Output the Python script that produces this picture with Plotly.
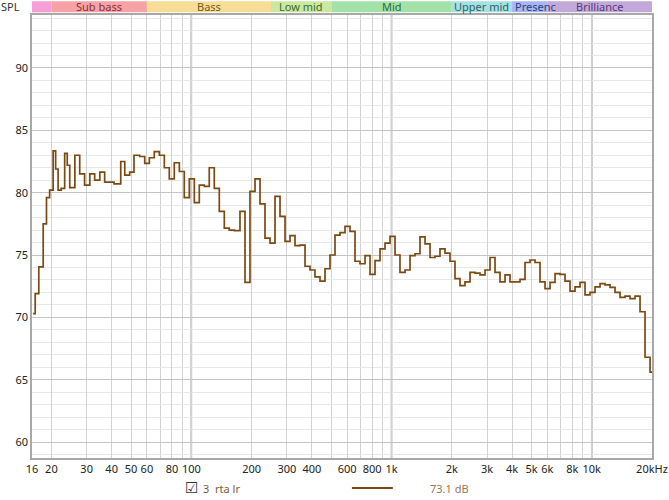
import math
import plotly.graph_objects as go

# ---- data (1/12-octave style RTA steps) ----
freq_hz = [
    16.2, 16.6, 17.3, 18.2, 18.9, 19.6, 20.4, 21.0, 21.6, 22.4,
    23.3, 24.0, 24.7, 26.2, 27.7, 29.3, 31.1, 32.9, 34.9, 36.9,
    41.1, 44.4, 46.5, 49.2, 51.7, 55.2, 58.5, 61.7, 65.3, 69.2,
    73.3, 77.6, 82.2, 87.1, 92.2, 97.7, 103.5, 109.6, 116.1, 122.9,
    130.2, 137.9, 146.1, 154.7, 163.9, 175.0, 185.4, 196.3, 208.0, 220.3,
    233.3, 247.2, 261.8, 277.3, 293.8, 311.2, 329.5, 349.0, 369.7, 391.6,
    414.6, 439.2, 465.3, 492.8, 521.9, 552.8, 585.6, 620.3, 657.0, 695.9,
    737.2, 780.8, 827.0, 876.0, 927.8, 982.7, 1041, 1102, 1168, 1237,
    1310, 1387, 1470, 1557, 1649, 1746, 1850, 1959, 2075, 2198,
    2328, 2466, 2612, 2767, 2931, 3104, 3288, 3482, 3689, 3907,
    4138, 4383, 4643, 4918, 5209, 5517, 5844, 6190, 6556, 6944,
    7356, 7791, 8252, 8741, 9258, 9806, 10387, 11002, 11653, 12343,
    13074, 13848, 14668, 15536, 16456, 17430, 18462, 19555, 20000,
]
spl_db = [
    70.3, 71.9, 74.05, 77.5, 79.6, 80.2, 83.35, 81.9, 80.2, 80.35,
    83.15, 82.2, 80.4, 83.0, 81.5, 80.6, 81.5, 81.0, 81.65, 80.85,
    80.7, 82.5, 81.4, 81.65, 83.0, 82.9, 82.35, 82.8, 83.3, 83.0,
    82.0, 81.1, 82.4, 81.7, 79.6, 81.1, 79.2, 80.6, 80.5, 82.0,
    80.35, 78.5, 77.15, 77.0, 76.95, 78.5, 72.8, 80.1, 81.1, 79.1,
    76.35, 75.95, 79.7, 78.1, 76.1, 76.55, 75.75, 75.8, 74.1, 73.8,
    73.25, 72.9, 73.9, 75.0, 76.6, 76.8, 77.3, 76.9, 74.5, 74.3,
    74.95, 73.45, 74.55, 75.5, 75.95, 76.5, 75.0, 73.6, 73.8, 74.95,
    75.1, 76.45, 75.9, 74.8, 74.9, 75.5, 75.15, 74.5, 73.1, 72.55,
    72.85, 73.6, 73.55, 73.4, 73.8, 74.8, 73.6, 72.85, 73.4, 72.85,
    72.85, 73.05, 74.4, 74.6, 74.4, 72.85, 72.3, 72.8, 73.5, 73.45,
    72.9, 72.1, 72.45, 72.8, 71.8, 72.0, 72.45, 72.7, 72.6, 72.4,
    72.0, 71.6, 71.7, 71.5, 71.7, 70.45, 66.8, 65.6, 65.6,
]

x_tick_vals = [16, 20, 30, 40, 50, 60, 80, 100, 200, 300, 400, 600, 800,
               1000, 2000, 3000, 4000, 5000, 6000, 8000, 10000, 20000]
x_tick_text = ["16", "20", "30", "40", "50", "60", "80", "100", "200", "300",
               "400", "600", "800", "1k", "2k", "3k", "4k", "5k", "6k", "8k",
               "10k", "20kHz"]
x_minor_vals = [70, 90, 500, 700, 900, 7000, 9000]
x_decades = [100, 1000, 10000]
y_tick_vals = [60, 65, 70, 75, 80, 85, 90]

band_names = ["", "Sub bass", "Bass", "Low mid", "Mid", "Upper mid", "Presenc", "Brilliance"]
band_edges = [16, 20, 60, 250, 500, 2000, 4000, 6000, 20000]
band_fill = ["#f59fd6", "#f7a3a6", "#f8dd97", "#c9e9a3", "#a2e2a9", "#a6e0e2", "#a7b6ee", "#c3a9d9"]
band_text = ["#7a2a5a", "#8a2e35", "#6e5a22", "#3e6a25", "#2e6a35", "#2e6468", "#2e3e86", "#5a3a7a"]

legend_label = "3  rta lr"
legend_value = "73.1 dB"

LINE = "#7b4a12"
FONT = "Noto Sans"

fig = go.Figure()
fig.add_trace(go.Scatter(
    x=freq_hz, y=spl_db, mode="lines", line=dict(color=LINE, width=1.7, shape="hv"),
    hoverinfo="x+y", showlegend=False,
))

shapes = []
for xv in x_decades:
    shapes.append(dict(type="line", xref="x", yref="paper", x0=xv, x1=xv, y0=0, y1=1,
                       line=dict(color="#a0a0a0", width=1.6), layer="below"))
for i, name in enumerate(band_names):
    shapes.append(dict(type="rect", xref="x", yref="paper",
                       x0=band_edges[i], x1=band_edges[i + 1], y0=1.006, y1=1.031,
                       fillcolor=band_fill[i], line=dict(width=0), layer="above"))
# legend line sample
shapes.append(dict(type="line", xref="paper", yref="paper", x0=0.516, x1=0.582,
                   y0=-0.068, y1=-0.068, line=dict(color=LINE, width=2)))

annotations = []
for i, name in enumerate(band_names):
    if not name:
        continue
    lo, hi = math.log10(band_edges[i]), math.log10(band_edges[i + 1])
    if name == "Presenc":
        xpos, anchor = lo + 0.004, "left"
    else:
        xpos, anchor = (lo + hi) / 2, "center"
    annotations.append(dict(text=name, xref="x", yref="paper", x=xpos, y=1.0185,
                            showarrow=False, font=dict(family=FONT, size=11, color=band_text[i]),
                            xanchor=anchor, yanchor="middle"))
annotations.append(dict(text="SPL", xref="paper", yref="paper", x=-0.016, y=1.0185,
                        showarrow=False, xanchor="right", yanchor="middle",
                        font=dict(family=FONT, size=11, color="#333333")))
annotations.append(dict(text="\u2611", xref="paper", yref="paper", x=0.258, y=-0.068,
                        showarrow=False, xanchor="center", yanchor="middle",
                        font=dict(family="DejaVu Sans", size=15, color="#333333")))
annotations.append(dict(text=legend_label, xref="paper", yref="paper", x=0.2726, y=-0.068,
                        showarrow=False, xanchor="left", yanchor="middle",
                        font=dict(family=FONT, size=11, color="#7a5a3e")))
annotations.append(dict(text=legend_value, xref="paper", yref="paper", x=0.6387, y=-0.068,
                        showarrow=False, xanchor="left", yanchor="middle",
                        font=dict(family=FONT, size=11, color="#9a7652")))

fig.update_layout(
    width=669, height=500,
    margin=dict(l=32, r=17, t=15, b=42),
    paper_bgcolor="white", plot_bgcolor="white",
    font=dict(family=FONT, size=11, color="#222222"),
    shapes=shapes, annotations=annotations,
    xaxis=dict(type="log", range=[math.log10(16), math.log10(20000)], automargin=False,
               tickvals=x_tick_vals, ticktext=x_tick_text, ticks="",
               showgrid=True, gridcolor="#d2d2d2", gridwidth=1,
               minor=dict(tickvals=x_minor_vals, showgrid=True, gridcolor="#d2d2d2", ticks=""),
               showline=True, linecolor="#a8a8a8", linewidth=1.5, mirror=True,
               zeroline=False, tickfont=dict(size=11, color="#222222")),
    yaxis=dict(range=[58.72, 94.25], tickvals=y_tick_vals, ticks="", automargin=False,
               showgrid=True, gridcolor="#c4c4c4", gridwidth=1,
               minor=dict(dtick=1, showgrid=True, gridcolor="#e8e8e8", ticks=""),
               showline=True, linecolor="#a8a8a8", linewidth=1.5, mirror=True,
               zeroline=False, tickfont=dict(size=11, color="#222222")),
)

fig.write_html("out.html", config={"displayModeBar": False},
               post_script="document.body.style.margin='0px';document.body.style.overflow='hidden';")
